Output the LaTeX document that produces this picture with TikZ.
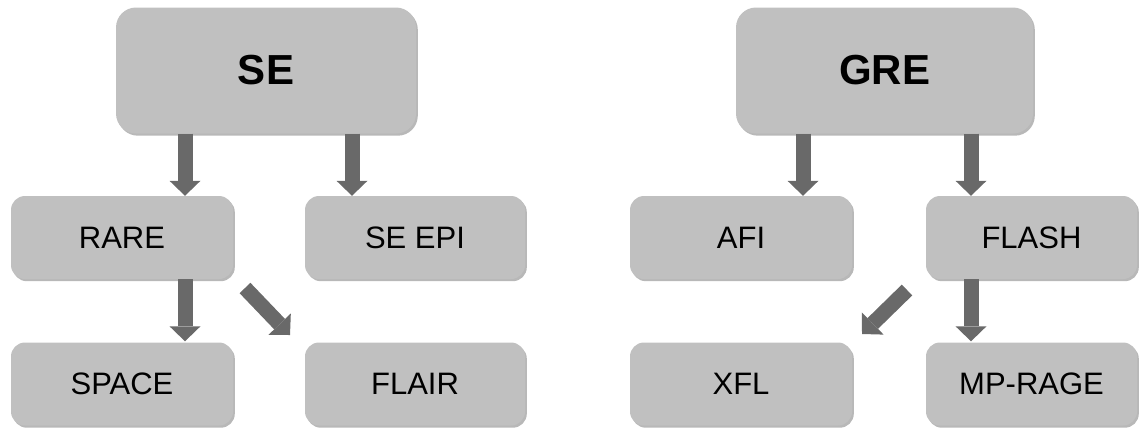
\documentclass[tikz,border=0pt]{standalone}
\usepackage{fontspec}
\setmainfont{Liberation Sans}
\usetikzlibrary{arrows.meta,shadows}
\definecolor{boxgray}{RGB}{192,192,192}
\definecolor{arrgray}{RGB}{105,105,105}
\tikzset{
  box/.style={rectangle, rounded corners=14pt, fill=boxgray, draw=none,
    inner sep=0pt, minimum height=83pt, text=black,
    font=\fontsize{31}{36}\selectfont,
    drop shadow={shadow xshift=1.8pt, shadow yshift=-2.2pt, fill=black, opacity=0.28}},
  bigbox/.style={box, rounded corners=20pt, minimum height=126pt,
    font=\fontsize{42}{48}\selectfont\bfseries},
  blk/.style={draw=arrgray, line width=15pt,
    -{Triangle[width=31pt,length=15pt,line width=0pt]}, arrgray}
}
\begin{document}
\begin{tikzpicture}[x=1pt,y=-1pt]
\useasboundingbox (0,0) rectangle (1142,429);
% left tree
\node[bigbox, minimum width=300pt] (se) at (266,70.5) {SE};
\node[box, minimum width=222pt] (rare) at (122,237.5) {RARE};
\node[box, minimum width=220pt] (seepi) at (415,237.5) {SE EPI};
\node[box, minimum width=222pt] (space) at (122,384) {SPACE};
\node[box, minimum width=220pt] (flair) at (415,384) {FLAIR};
% right tree
\node[bigbox, minimum width=297pt] (gre) at (884.5,70.5) {GRE};
\node[box, minimum width=222pt] (afi) at (741,237.5) {AFI};
\node[box, minimum width=211pt] (flash) at (1031.5,237.5) {FLASH};
\node[box, minimum width=222pt] (xfl) at (741,384) {XFL};
\node[box, minimum width=211pt] (mprage) at (1031.5,384) {MP-RAGE};
% arrow columns
\coordinate (xa) at (185,0);
\coordinate (xb) at (352,0);
\coordinate (xc) at (803,0);
\coordinate (xd) at (971,0);
\draw[blk] (xa |- se.south) -- (xa |- rare.north);
\draw[blk] (xb |- se.south) -- (xb |- seepi.north);
\draw[blk] (xa |- rare.south) -- ([yshift=1pt]xa |- space.north);
\draw[blk] (xc |- gre.south) -- (xc |- afi.north);
\draw[blk] (xd |- gre.south) -- (xd |- flash.north);
\draw[blk] (xd |- flash.south) -- ([yshift=1pt]xd |- mprage.north);
% diagonal arrows
\coordinate (d1s) at (245,288);
\coordinate (d1e) at (290,335);
\coordinate (d2s) at (907,290);
\coordinate (d2e) at (862,334);
\draw[blk] (d1s) -- (d1e);
\draw[blk] (d2s) -- (d2e);
\end{tikzpicture}
\end{document}
